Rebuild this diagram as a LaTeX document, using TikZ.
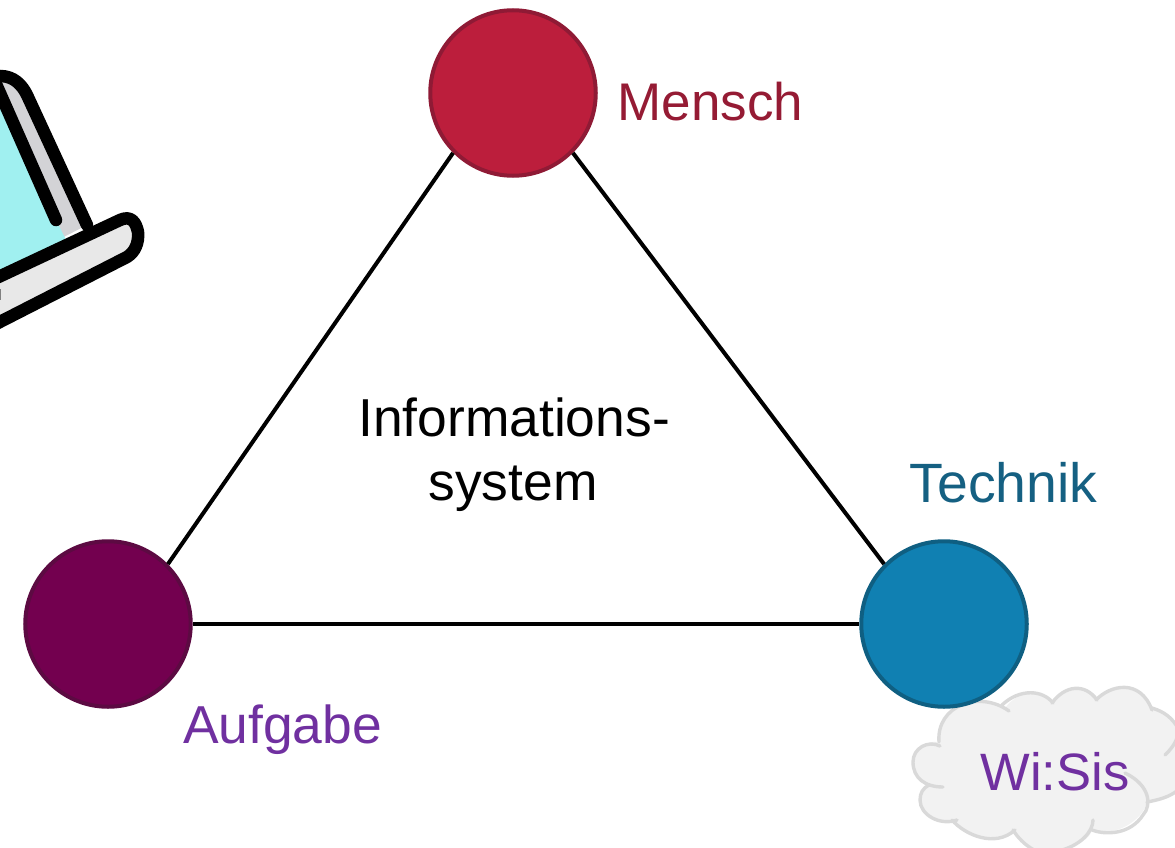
\documentclass[tikz,border=0pt]{standalone}
\usepackage{fontspec}
\setmainfont{Liberation Sans}
\definecolor{redfill}{HTML}{BC1E3C}
\definecolor{redline}{HTML}{8F1A35}
\definecolor{purplefill}{HTML}{73004F}
\definecolor{purpleline}{HTML}{5C0A42}
\definecolor{bluefill}{HTML}{1080B2}
\definecolor{blueline}{HTML}{0F5F82}
\definecolor{violettext}{HTML}{7030A0}
\definecolor{redtext}{HTML}{951B34}
\definecolor{bluetext}{HTML}{156082}
\definecolor{cloudfill}{HTML}{F2F2F2}
\definecolor{cloudline}{HTML}{D9D9D9}
\definecolor{lidgray}{HTML}{D3D3D6}
\definecolor{basegray}{HTML}{E8E8E8}
\definecolor{screencyan}{HTML}{A0F0F0}
\tikzset{
  vertex/.style={circle,minimum size=165.5pt,inner sep=0pt,line width=4pt},
  label text/.style={font=\fontsize{53.4}{64}\selectfont,anchor=base,inner sep=0pt},
  edgeline/.style={line width=4pt,black},
  lobe/.style={line width=3.4pt,cloudline,line cap=round},
  laptopline/.style={line width=12.5pt,black,line cap=round,line join=round},
}
\begin{document}
\begin{tikzpicture}[x=1pt,y=-1pt]
\useasboundingbox (0,0) rectangle (1175,848);
% laptop
\fill[lidgray] (0,76) .. controls (14,76) and (22,85) .. (27,95) -- (87,225) -- (0,270) -- cycle;
\fill[screencyan] (-4,82) -- (56,220) -- (66,240) -- (-4,275) -- cycle;
\draw[laptopline] (-6,76) -- (0,76) .. controls (14,76) and (22,85) .. (27,95) -- (87,225);
\draw[laptopline] (-4,84) -- (56,220);
\draw[laptopline,fill=basegray] (-10,281) -- (120,220) .. controls (131,215) and (136,222) .. (138,232) .. controls (139,243) and (135,252) .. (127,257) -- (-10,327) -- cycle;
\fill[gray] (-1,289) rectangle (0.8,300);
% cloud
\fill[cloudfill] (939,742) .. controls (936,705) and (980,690) .. (1005,708)
  .. controls (1020,688) and (1043,690) .. (1053,703)
  .. controls (1065,685) and (1085,683) .. (1097,700)
  .. controls (1110,685) and (1140,678) .. (1152,708)
  .. controls (1165,712) and (1172,718) .. (1178,728)
  -- (1178,790) .. controls (1170,797) and (1158,800) .. (1147,802)
  .. controls (1143,820) and (1115,838) .. (1092,830)
  .. controls (1090,838) and (1080,845) .. (1062,850)
  -- (1034,850) .. controls (1025,845) and (1018,838) .. (1013,830)
  .. controls (995,848) and (965,835) .. (952,820)
  .. controls (940,826) and (920,815) .. (920,800)
  .. controls (920,793) and (923,788) .. (929,785)
  .. controls (920,783) and (913,775) .. (913,762)
  .. controls (913,748) and (928,740) .. (939,742) -- cycle;
\draw[lobe] (939,742) .. controls (936,705) and (980,690) .. (1009,711);
\draw[lobe] (1002,705) .. controls (1020,688) and (1043,690) .. (1053,703);
\draw[lobe] (1052,703) .. controls (1065,685) and (1085,683) .. (1097,700);
\draw[lobe] (1096,700) .. controls (1110,685) and (1140,678) .. (1152,710);
\draw[lobe] (1152,708) .. controls (1165,712) and (1172,718) .. (1178,728);
\draw[lobe] (1178,735) .. controls (1175,745) and (1170,750) .. (1165,755);
\draw[lobe] (1178,790) .. controls (1170,797) and (1158,800) .. (1147,802);
\draw[lobe] (1125,773) .. controls (1150,785) and (1152,805) .. (1143,815) .. controls (1130,835) and (1105,835) .. (1092,830);
\draw[lobe] (1093,820) .. controls (1093,832) and (1080,845) .. (1062,850);
\draw[lobe] (1013,830) .. controls (1018,838) and (1025,845) .. (1034,850);
\draw[lobe] (1015,830) .. controls (995,848) and (965,835) .. (952,820);
\draw[lobe] (957,820) .. controls (940,826) and (920,815) .. (920,800) .. controls (920,793) and (923,788) .. (929,785);
\draw[lobe] (943,787) .. controls (925,787) and (913,778) .. (913,762) .. controls (913,748) and (928,740) .. (940,746);
% circles
\node[vertex,fill=redfill,draw=redline] (m) at (513,93) {};
\node[vertex,fill=purplefill,draw=purpleline] (a) at (108,624) {};
\node[vertex,fill=bluefill,draw=blueline] (t) at (944,624) {};
% connectors
\draw[edgeline] (m.225) -- (a.45);
\draw[edgeline] (m.-45) -- (t.135);
\draw[edgeline] (a) -- (t);
% labels
\node[label text,text=redtext,font=\fontsize{53}{64}\selectfont] (lm) at (710.5,120.5) {Mensch};
\node[label text,text=bluetext,font=\fontsize{55.4}{64}\selectfont] (lt) at (1003.5,502.5) {Technik};
\node[label text,text=violettext] (la) at (282.5,743) {Aufgabe};
\node[label text,text=violettext,font=\fontsize{52.6}{64}\selectfont] (lw) at (1055,790) {Wi:Sis};
\node[label text] (l1) at (514,436.5) {Informations-};
\node[label text] (l2) at (513,500.5) {system};
\end{tikzpicture}
\end{document}
